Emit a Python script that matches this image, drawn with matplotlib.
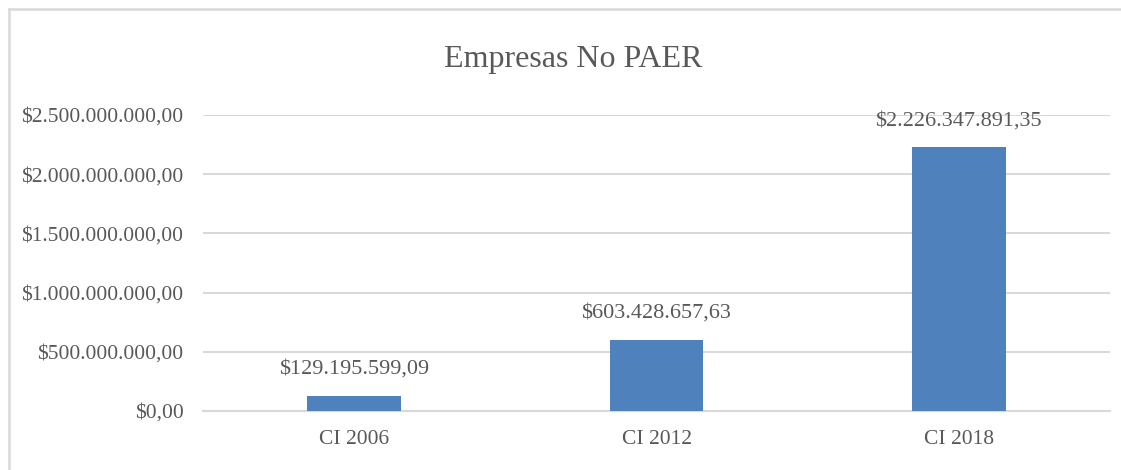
import matplotlib
matplotlib.use('Agg')
import matplotlib.pyplot as plt
from matplotlib.lines import Line2D
from matplotlib.ticker import FuncFormatter

categories = ['CI 2006', 'CI 2012', 'CI 2018']
values = [129195599.09, 603428657.63, 2226347891.35]
value_labels = ['$129.195.599,09', '$603.428.657,63', '$2.226.347.891,35']
ytick_values = [0, 500000000, 1000000000, 1500000000, 2000000000, 2500000000]


def money(v, pos=None):
    s = '{:,.2f}'.format(v)
    s = s.replace(',', 'X').replace('.', ',').replace('X', '.')
    return '$' + s


def main():
    plt.rcParams['font.family'] = ['Liberation Serif', 'DejaVu Serif']
    text_col = '#595959'
    border = '#D9D9D9'

    fig = plt.figure(figsize=(11.21, 4.70), dpi=100)
    # outer chart border (only top and left edges are visible)
    fig.lines.append(Line2D([9 / 1121, 9 / 1121], [0, 1 - 9 / 470],
                            transform=fig.transFigure, color=border, linewidth=1.8))
    fig.lines.append(Line2D([9 / 1121, 1], [1 - 9 / 470, 1 - 9 / 470],
                            transform=fig.transFigure, color=border, linewidth=1.8))
    ax = fig.add_axes([203 / 1121, 59 / 470, 907 / 1121, 296 / 470])

    x = range(len(categories))
    ax.bar(x, values, width=0.31, color='#4F81BD', zorder=3)
    for i, v in enumerate(values):
        ax.annotate(value_labels[i], (i, v), xytext=(0, 19), textcoords='offset points',
                    ha='center', va='center', fontsize=16, color=text_col)

    ax.set_xlim(-0.5, 2.5)
    ax.set_ylim(0, 2500000000)
    ax.set_yticks(ytick_values)
    ax.yaxis.set_major_formatter(FuncFormatter(money))
    ax.set_xticks(list(x))
    ax.set_xticklabels(categories)
    ax.tick_params(axis='both', length=0, labelsize=15.5, colors=text_col)
    ax.tick_params(axis='x', pad=14)
    ax.tick_params(axis='y', pad=14)
    ax.grid(axis='y', color=border, linewidth=1.5, zorder=0)
    for s in ['top', 'right', 'left']:
        ax.spines[s].set_visible(False)
    ax.spines['bottom'].set_color(border)
    ax.spines['bottom'].set_linewidth(1.5)

    fig.text(573 / 1121, 1 - 60 / 470, 'Empresas No PAER', ha='center', va='center',
             fontsize=23, color=text_col)

    fig.savefig('out.png', dpi=100)


if __name__ == '__main__':
    main()
